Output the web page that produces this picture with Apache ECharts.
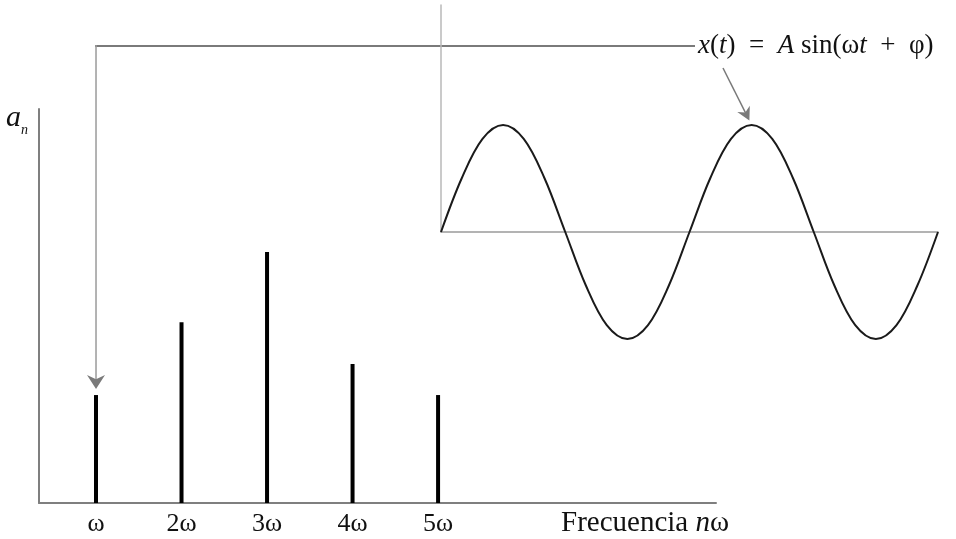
<!DOCTYPE html>
<html><head><meta charset="utf-8">
<script src="https://cdn.jsdelivr.net/npm/echarts@6/dist/echarts.min.js"></script>
<style>html,body{margin:0;padding:0;background:#fff}#c{width:956px;height:539px}</style>
</head><body><div id="c"></div>
<script>
// Spectrum: harmonic number and amplitude a_n (arbitrary units)
const tickLabels = ['ω', '2ω', '3ω', '4ω', '5ω'];
const harmonics = [1, 2, 3, 4, 5];
const amplitudes = [2.74, 4.59, 6.37, 3.53, 2.74];
// Inset waveform x(t): time in periods, amplitude in units of A (every 1/12 period)
const waveT = [0, 0.083, 0.167, 0.25, 0.333, 0.417, 0.5, 0.583, 0.667, 0.75, 0.833, 0.917, 1.0,
               1.083, 1.167, 1.25, 1.333, 1.417, 1.5, 1.583, 1.667, 1.75, 1.833, 1.917, 2.0];
const waveX = [0, 0.5, 0.87, 1, 0.87, 0.5, 0, -0.5, -0.87, -1, -0.87, -0.5, 0,
               0.5, 0.87, 1, 0.87, 0.5, 0, -0.5, -0.87, -1, -0.87, -0.5, 0];

const SERIF = 'Liberation Serif';
const chart = echarts.init(document.getElementById('c'), null, {renderer: 'canvas'});

chart.setOption({
  animation: false,
  backgroundColor: '#fff',
  grid: [
    {left: 39, top: 109, right: 240, bottom: 36},
    {left: 441, top: 5, right: 18, bottom: 307}
  ],
  xAxis: [
    {
      type: 'value', gridIndex: 0, min: 1 / 3, max: 8.25,
      axisLine: {show: true, onZero: false, lineStyle: {color: '#7f7f7f', width: 2}},
      axisTick: {show: false}, splitLine: {show: false},
      axisLabel: {
        customValues: harmonics,
        formatter: v => tickLabels[harmonics.indexOf(v)] || '',
        fontFamily: SERIF, fontSize: 26, color: '#111', margin: 8
      }
    },
    {
      type: 'value', gridIndex: 1, min: 0, max: 2,
      axisLine: {show: true, onZero: false, lineStyle: {color: '#9a9a9a', width: 1.5}},
      axisTick: {show: false}, splitLine: {show: false}, axisLabel: {show: false}
    }
  ],
  yAxis: [
    {
      type: 'value', gridIndex: 0, min: 0, max: 10,
      axisLine: {show: true, onZero: false, lineStyle: {color: '#7f7f7f', width: 2}},
      axisTick: {show: false}, splitLine: {show: false}, axisLabel: {show: false}
    },
    {
      type: 'value', gridIndex: 1, min: 0, max: 2.121,
      axisLine: {show: true, onZero: false, lineStyle: {color: '#b8b8b8', width: 1.5}},
      axisTick: {show: false}, splitLine: {show: false}, axisLabel: {show: false}
    }
  ],
  series: [
    {
      type: 'bar', xAxisIndex: 0, yAxisIndex: 0, barWidth: 4,
      data: harmonics.map((h, i) => [h, amplitudes[i]]),
      itemStyle: {color: '#000'}, silent: true
    },
    {
      type: 'line', xAxisIndex: 1, yAxisIndex: 1, smooth: 0.35, clip: false,
      showSymbol: false, symbol: 'none',
      data: waveT.map((t, i) => [t, waveX[i]]),
      lineStyle: {color: '#1a1a1a', width: 2}, silent: true
    }
  ]
});

function arrowHead(from, tip, len, half, color) {
  let dx = tip[0] - from[0], dy = tip[1] - from[1];
  const L = Math.hypot(dx, dy); dx /= L; dy /= L;
  const px = -dy, py = dx;
  const bx = tip[0] - dx * len, by = tip[1] - dy * len;
  const nx = tip[0] - dx * len * 0.7, ny = tip[1] - dy * len * 0.7;
  return {
    type: 'polygon', silent: true,
    shape: {points: [tip, [bx + px * half, by + py * half], [nx, ny], [bx - px * half, by - py * half]]},
    style: {fill: color}
  };
}

const barTop = chart.convertToPixel({xAxisIndex: 0, yAxisIndex: 0}, [harmonics[0], amplitudes[0]]);
const peak = chart.convertToPixel({xAxisIndex: 1, yAxisIndex: 1}, [waveT[15], waveX[15]]);
const lineY = 46;
const tip1 = [barTop[0], barTop[1] - 6];
const start2 = [723, 68];
const d2 = Math.hypot(peak[0] - start2[0], peak[1] - start2[1]);
const ux = (peak[0] - start2[0]) / d2, uy = (peak[1] - start2[1]) / d2;
const tip2 = [peak[0] - ux * 5, peak[1] - uy * 5];

chart.setOption({
  graphic: [
    {type: 'line', silent: true, shape: {x1: 695, y1: lineY, x2: barTop[0] - 1, y2: lineY}, style: {stroke: '#7a7a7a', lineWidth: 2}},
    {type: 'line', silent: true, shape: {x1: barTop[0], y1: lineY - 1, x2: barTop[0], y2: tip1[1] - 8}, style: {stroke: '#9a9a9a', lineWidth: 1.5}},
    arrowHead([barTop[0], lineY], tip1, 14, 9, '#7a7a7a'),
    {type: 'line', silent: true, shape: {x1: start2[0], y1: start2[1], x2: tip2[0] - ux * 8, y2: tip2[1] - uy * 8}, style: {stroke: '#7a7a7a', lineWidth: 1.5}},
    arrowHead(start2, tip2, 13, 7, '#7a7a7a'),
    {
      type: 'text', silent: true, x: 698, y: lineY,
      style: {
        text: '{i|x}{r|(}{i|t}{r|)  =  }{i|A}{r| sin(ω}{i|t}{r|  +  φ)}',
        verticalAlign: 'middle', align: 'left',
        rich: {
          i: {fontFamily: SERIF, fontSize: 27, fontStyle: 'italic', fill: '#111'},
          r: {fontFamily: SERIF, fontSize: 27, fill: '#111'}
        }
      }
    },
    {
      type: 'text', silent: true, x: 6, y: 103,
      style: {text: 'a', fontFamily: SERIF, fontSize: 30, fontStyle: 'italic', fill: '#111', verticalAlign: 'top'}
    },
    {
      type: 'text', silent: true, x: 21, y: 123,
      style: {text: 'n', fontFamily: SERIF, fontSize: 14, fontStyle: 'italic', fill: '#111', verticalAlign: 'top'}
    },
    {
      type: 'text', silent: true, x: 561, y: 523,
      style: {
        text: '{r|Frecuencia }{i|n}{r|ω}', verticalAlign: 'middle', align: 'left',
        rich: {
          i: {fontFamily: SERIF, fontSize: 29, fontStyle: 'italic', fill: '#111'},
          r: {fontFamily: SERIF, fontSize: 29, fill: '#111'}
        }
      }
    }
  ]
});
</script></body></html>
